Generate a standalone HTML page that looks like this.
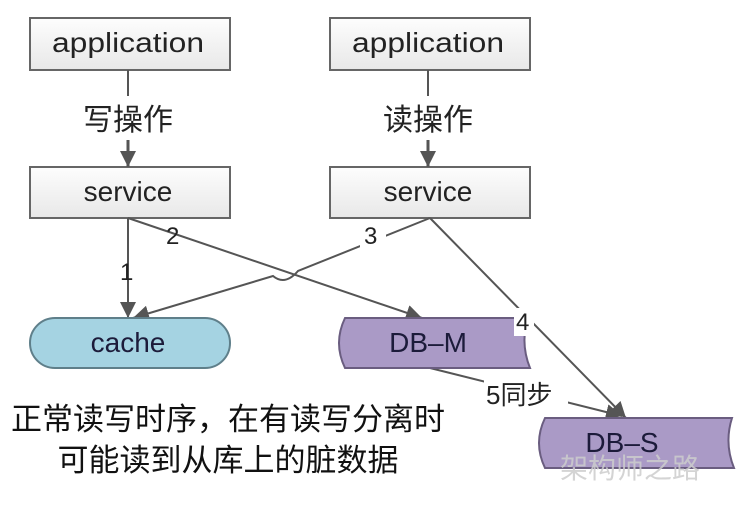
<!DOCTYPE html>
<html><head><meta charset="utf-8"><style>
body{margin:0;width:748px;height:519px;background:#fff;overflow:hidden}
</style></head><body>
<svg width="748" height="519" xmlns="http://www.w3.org/2000/svg" font-family="Liberation Sans, Noto Sans CJK SC, sans-serif">
<defs>
<linearGradient id="g" x1="0" y1="0" x2="0" y2="1"><stop offset="0" stop-color="#fdfdfd"/><stop offset="1" stop-color="#e8e8e8"/></linearGradient>
<marker id="a" markerWidth="16" markerHeight="16" refX="14" refY="7" orient="auto" markerUnits="userSpaceOnUse" viewBox="0 0 14 14"><path d="M0,0 L14,7 L0,14 z" fill="#555"/></marker>
</defs>
<g stroke="#666" stroke-width="2" fill="url(#g)">
<rect x="30" y="18" width="200" height="52"/>
<rect x="330" y="18" width="200" height="52"/>
<rect x="30" y="167" width="200" height="51"/>
<rect x="330" y="167" width="200" height="51"/>
</g>
<g font-size="28" fill="#222" text-anchor="middle">
<text x="128" y="52" textLength="152" lengthAdjust="spacingAndGlyphs">application</text>
<text x="428" y="52" textLength="152" lengthAdjust="spacingAndGlyphs">application</text>
<text x="128" y="201">service</text>
<text x="428" y="201">service</text>
<text x="128" y="130" font-size="30">写操作</text>
<text x="428" y="130" font-size="30">读操作</text>
</g>
<g stroke="#555" stroke-width="2" fill="none">
<line x1="128" y1="70" x2="128" y2="96"/>
<line x1="128" y1="140" x2="128" y2="167" marker-end="url(#a)" stroke-width="3"/>
<line x1="428" y1="70" x2="428" y2="96"/>
<line x1="428" y1="140" x2="428" y2="167" marker-end="url(#a)" stroke-width="3"/>
<line x1="128" y1="218" x2="128" y2="318" marker-end="url(#a)"/>
<line x1="128" y1="218" x2="422" y2="318" marker-end="url(#a)"/>
<path d="M430,218 L298,271 Q285,286 273,276 L133,318" marker-end="url(#a)"/>
<line x1="430" y1="218" x2="626" y2="418" marker-end="url(#a)"/>
<line x1="430" y1="368" x2="622" y2="416" marker-end="url(#a)"/>
</g>
<rect x="30" y="318" width="200" height="50" rx="25" fill="#a5d3e2" stroke="#5f7f8a" stroke-width="2"/>
<path d="M345,318 L528,318 Q520,343 530,368 L345,368 Q333,343 345,318 z" fill="#aa9ac6" stroke="#6a5d80" stroke-width="2"/>
<path d="M545,418 L732,418 Q724,443 734,468 L545,468 Q533,443 545,418 z" fill="#aa9ac6" stroke="#6a5d80" stroke-width="2"/>
<g font-size="28" fill="#1c1b3a" text-anchor="middle">
<text x="128" y="352">cache</text>
<text x="428" y="352">DB–M</text>
<text x="622" y="452">DB–S</text>
</g>
<g font-size="24" fill="#222" font-family="Liberation Sans, sans-serif">
<rect x="360" y="222" width="26" height="26" fill="#fff"/>
<text x="166" y="244">2</text>
<text x="364" y="244">3</text>
<text x="120" y="280">1</text>
<rect x="514" y="308" width="20" height="28" fill="#fff"/>
<text x="516" y="330">4</text>
</g>
<rect x="484" y="378" width="84" height="30" fill="#fff"/>
<text x="486" y="404" font-size="26" fill="#222">5同步</text>
<g font-size="31" fill="#111" text-anchor="middle">
<text x="228" y="430">正常读写时序，在有读写分离时</text>
<text x="228" y="471">可能读到从库上的脏数据</text>
</g>
<text x="560" y="478" font-size="28" fill="#ccc" fill-opacity="0.85">架构师之路</text>
</svg>
</body></html>
